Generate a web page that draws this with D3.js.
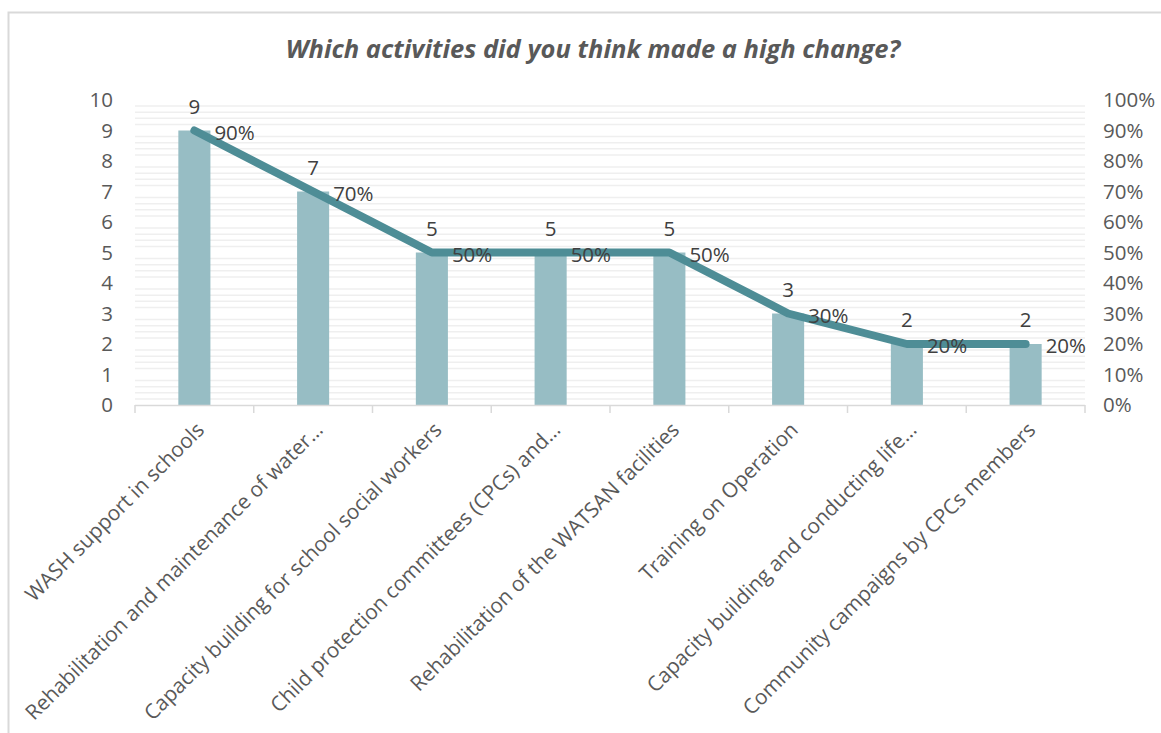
<!DOCTYPE html>
<html><head><meta charset="utf-8">
<script src="https://cdn.jsdelivr.net/npm/d3@7"></script>
<style>body{margin:0;background:#fff;}svg{display:block;font-family:"Open Sans",sans-serif;}</style>
</head><body><svg id="c" width="1161" height="733"></svg>
<script>
const categories = ["WASH support in schools","Rehabilitation and maintenance of water…","Capacity building for school social workers","Child protection committees (CPCs) and…","Rehabilitation of the WATSAN facilities","Training on Operation","Capacity building and conducting life…","Community campaigns by CPCs members"];
const counts = [9,7,5,5,5,3,2,2];
const percents = [0.9,0.7,0.5,0.5,0.5,0.3,0.2,0.2];
const leftTicks = [0,1,2,3,4,5,6,7,8,9,10];
const rightTicks = [0,0.1,0.2,0.3,0.4,0.5,0.6,0.7,0.8,0.9,1.0];
const title = "Which activities did you think made a high change?";

const svg = d3.select("#c");
const M = {l:135, r:1085, t:100, b:405};
// outer frame
svg.append("path").attr("d","M8.5,733 V12.5 H1161").attr("fill","none").attr("stroke","#d9d9d9").attr("stroke-width",2);

const x = d3.scaleBand().domain(categories).range([M.l,M.r]).paddingInner(0.73).paddingOuter(0.365);
const xb = d3.scaleBand().domain(categories).range([M.l,M.r]);
const y = d3.scaleLinear().domain([0,10]).range([M.b,M.t]);
const y2 = d3.scaleLinear().domain([0,1]).range([M.b,M.t]);

// minor gridlines
const minor = d3.range(0,10.01,0.2).filter(v=>Math.abs(v-Math.round(v))>0.01);
svg.append("g").selectAll("line").data(minor).join("line")
  .attr("x1",M.l).attr("x2",M.r).attr("y1",d=>y(d)).attr("y2",d=>y(d))
  .attr("stroke","#efefef").attr("stroke-width",1.5);

// bars
svg.append("g").selectAll("rect").data(counts).join("rect")
  .attr("x",(d,i)=>x(categories[i])).attr("width",x.bandwidth())
  .attr("y",d=>y(d)).attr("height",d=>M.b-y(d)).attr("fill","#97bdc4");

// x axis
const gx = svg.append("g").attr("transform",`translate(0,${M.b})`).call(d3.axisBottom(xb).tickSize(0).tickFormat(""));
gx.select(".domain").attr("stroke","#d9d9d9").attr("stroke-width",1.5).attr("d",`M${M.l},0.5H${M.r}`);
gx.selectAll(".tick").remove();
svg.append("g").selectAll("line").data(d3.range(categories.length+1)).join("line")
  .attr("x1",i=>M.l+i*xb.step()).attr("x2",i=>M.l+i*xb.step())
  .attr("y1",M.b).attr("y2",M.b+8).attr("stroke","#d9d9d9").attr("stroke-width",1.5);

// category labels
svg.append("g").selectAll("text").data(categories).join("text")
  .attr("transform",d=>`translate(${xb(d)+xb.bandwidth()/2+6},${M.b+21}) rotate(-45)`)
  .attr("text-anchor","end").attr("dy","0.35em")
  .attr("font-size",20.8).attr("fill","#595959").text(d=>d);

// left axis
const gl = svg.append("g").attr("transform",`translate(${M.l},0)`).call(d3.axisLeft(y).tickValues(leftTicks).tickSize(0).tickPadding(22));
gl.select(".domain").remove();
gl.selectAll("text").attr("font-size",20.5).attr("fill","#595959").attr("font-family","Open Sans");

// right axis
const gr = svg.append("g").attr("transform",`translate(${M.r},0)`).call(d3.axisRight(y2).tickValues(rightTicks).tickSize(0).tickPadding(18).tickFormat(d3.format(".0%")));
gr.select(".domain").remove();
gr.selectAll("text").attr("font-size",20.5).attr("fill","#595959").attr("font-family","Open Sans");

// line
const cx = (i)=>xb(categories[i])+xb.bandwidth()/2;
const line = d3.line().x((d,i)=>cx(i)).y(d=>y2(d));
svg.append("path").datum(percents).attr("d",line).attr("fill","none")
  .attr("stroke","#4e8d96").attr("stroke-width",8).attr("stroke-linecap","round").attr("stroke-linejoin","round");

// count labels
svg.append("g").selectAll("text").data(counts).join("text")
  .attr("x",(d,i)=>cx(i)).attr("y",d=>y(d)-17).attr("text-anchor","middle")
  .attr("font-size",20.5).attr("fill","#404040").text(d=>d);

// percent labels
svg.append("g").selectAll("text").data(percents).join("text")
  .attr("x",(d,i)=>cx(i)+20).attr("y",d=>y2(d)+9).attr("text-anchor","start")
  .attr("font-size",20.5).attr("fill","#404040").text(d=>d3.format(".0%")(d));

// title
svg.append("text").attr("x",593).attr("y",58).attr("text-anchor","middle")
  .attr("font-size",25.5).attr("font-weight","bold").attr("font-style","italic")
  .attr("fill","#595959").text(title);
</script></body></html>
